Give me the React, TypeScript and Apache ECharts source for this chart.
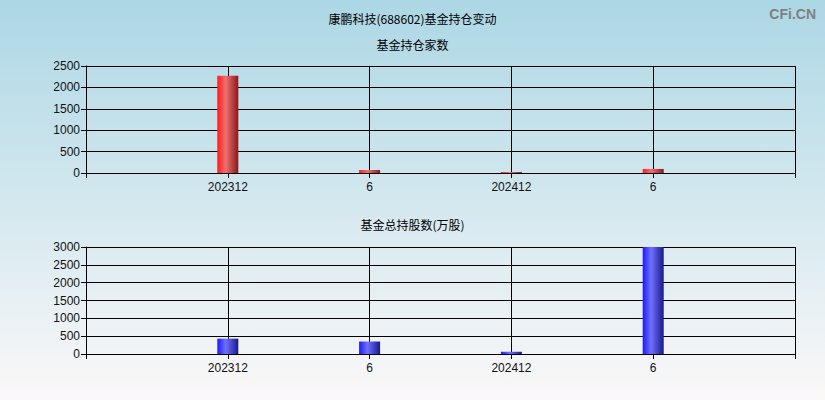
import React, { useEffect, useRef } from "react";
import * as echarts from "echarts";

const categories = ["202312", "6", "202412", "6"];
const fundCount = [2270, 70, 25, 95];
const fundShares = [430, 350, 65, 3000];
const countTicks = [0, 500, 1000, 1500, 2000, 2500];
const shareTicks = [0, 500, 1000, 1500, 2000, 2500, 3000];

const mainTitle = "康鹏科技(688602)基金持仓变动";
const subTitle1 = "基金持仓家数";
const subTitle2 = "基金总持股数(万股)";

export default function App() {
  const ref = useRef<HTMLDivElement>(null);
  useEffect(() => {
    if (!ref.current) return;
    const chart = echarts.init(ref.current, undefined, { renderer: "svg" });
    const axisCats = ["", ...categories, ""];
    const pad = (arr: number[]) => ["-", ...arr, "-"];
    const barGrad = (c0: string, c1: string, c2: string) =>
      new echarts.graphic.LinearGradient(0, 0, 1, 0, [
        { offset: 0, color: c0 },
        { offset: 0.4, color: c1 },
        { offset: 1, color: c2 },
      ]);
    const xAxisCommon = (gridIndex: number) => ({
      type: "category" as const,
      gridIndex,
      data: axisCats,
      boundaryGap: false,
      axisLine: { lineStyle: { color: "#000", width: 1 } },
      axisTick: { show: true, length: 5, lineStyle: { color: "#000" } },
      axisLabel: {
        color: "#111",
        fontSize: 12,
        fontFamily: "Liberation Sans, Arial, sans-serif",
        margin: 8,
        interval: 0,
      },
      splitLine: { show: true, lineStyle: { color: "#000", width: 1 } },
    });
    const yAxisCommon = (gridIndex: number, ticks: number[]) => ({
      type: "value" as const,
      gridIndex,
      min: ticks[0],
      max: ticks[ticks.length - 1],
      interval: ticks[1] - ticks[0],
      axisLine: { show: true, lineStyle: { color: "#000", width: 1 } },
      axisTick: { show: true, length: 5, lineStyle: { color: "#000" } },
      axisLabel: {
        color: "#111",
        fontSize: 12,
        fontFamily: "Liberation Sans, Arial, sans-serif",
        margin: 6,
        formatter: (v: number) => String(v),
      },
      splitLine: { show: true, lineStyle: { color: "#000", width: 1 } },
    });
    const titleStyle = {
      fontSize: 12,
      fontWeight: "normal" as const,
      color: "#000",
      fontFamily: "Noto Sans CJK SC, sans-serif",
    };
    chart.setOption({
      animation: false,
      backgroundColor: new echarts.graphic.LinearGradient(0, 0, 0, 1, [
        { offset: 0, color: "#acd7e5" },
        { offset: 1, color: "#fbf8f8" },
      ]),
      title: [
        { text: mainTitle, left: "center", top: 7, textStyle: titleStyle },
        { text: subTitle1, left: "center", top: 33, textStyle: titleStyle },
        { text: subTitle2, left: "center", top: 213, textStyle: titleStyle },
        {
          text: "CFi.CN",
          right: 4,
          top: 2,
          textStyle: {
            fontSize: 14,
            fontWeight: "bold",
            color: "#808080",
            fontFamily: "Liberation Sans, Arial, sans-serif",
          },
        },
      ],
      grid: [
        { left: 86, right: 30, top: 66, height: 107, show: false },
        { left: 86, right: 30, top: 247, height: 107, show: false },
      ],
      xAxis: [xAxisCommon(0), xAxisCommon(1)],
      yAxis: [yAxisCommon(0, countTicks), yAxisCommon(1, shareTicks)],
      series: [
        {
          type: "bar",
          xAxisIndex: 0,
          yAxisIndex: 0,
          data: pad(fundCount),
          barWidth: 21,
          itemStyle: { color: barGrad("#ff1a1a", "#f07070", "#8a1818") },
        },
        {
          type: "bar",
          xAxisIndex: 1,
          yAxisIndex: 1,
          data: pad(fundShares),
          barWidth: 21,
          itemStyle: { color: barGrad("#1a1aff", "#7070ff", "#18188a") },
        },
      ],
    });
    return () => chart.dispose();
  }, []);
  return (
    <div
      ref={ref}
      style={{ position: "fixed", left: 0, top: 0, width: 825, height: 400 }}
    />
  );
}
